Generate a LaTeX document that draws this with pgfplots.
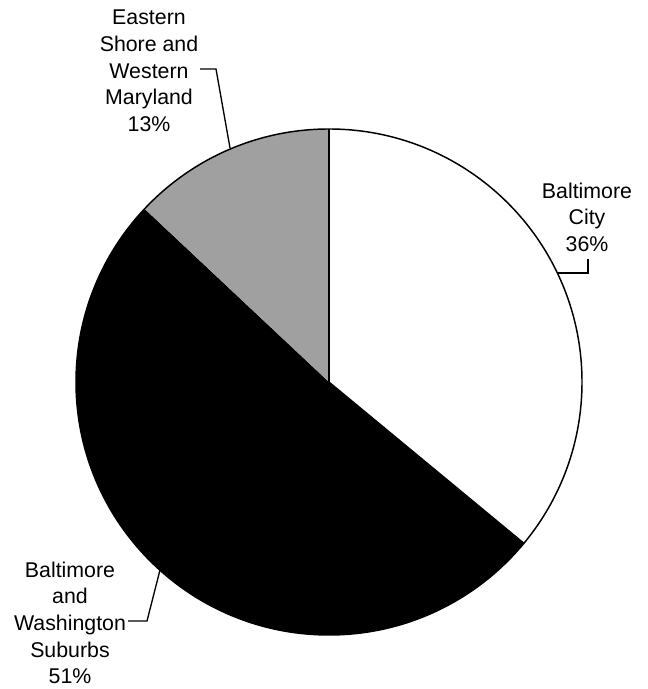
\documentclass[border=0pt]{standalone}
\usepackage{pgfplots}
\pgfplotsset{compat=1.18}
\usepackage{fontspec}
\setmainfont{Liberation Sans}
\definecolor{piegray}{RGB}{160,160,160}
\begin{document}
\begin{tikzpicture}
\begin{axis}[
  width=485.25pt, height=516.75pt, scale only axis,
  xmin=0, xmax=647, ymin=0, ymax=689,
  hide axis, clip=false]
% shares (percent), clockwise from 12 o'clock
\def\vA{36}\def\vB{51}\def\vC{13}
\pgfmathsetmacro{\aA}{90}
\pgfmathsetmacro{\aB}{90-\vA*3.6}
\pgfmathsetmacro{\aC}{\aB-\vB*3.6}
\pgfmathsetmacro{\aD}{\aC-\vC*3.6}
\def\R{189.75pt}
\fill[white] (axis cs:329,307) -- ++(\aA:\R) arc[start angle=\aA, end angle=\aB, radius=\R] -- cycle;
\fill[black] (axis cs:329,307) -- ++(\aB:\R) arc[start angle=\aB, end angle=\aC, radius=\R] -- cycle;
\fill[piegray] (axis cs:329,307) -- ++(\aC:\R) arc[start angle=\aC, end angle=\aD, radius=\R] -- cycle;
\draw[line width=1.1pt] (axis cs:329,307) circle[radius=\R];
\draw[line width=1pt] (axis cs:329,307) -- ++(\aA:\R);
\draw[line width=1pt] (axis cs:329,307) -- ++(\aB:\R);
% leader lines
\draw[line width=1pt] (axis cs:200,620) -- (axis cs:216,620) -- (axis cs:230,541);
\draw[line width=1pt] (axis cs:588,430) -- (axis cs:588,416) -- (axis cs:558,416);
\draw[line width=1pt] (axis cs:128,68) -- (axis cs:147,68) -- (axis cs:160,119);
% labels
\node[align=center, font=\fontsize{16}{20}\selectfont] at (axis cs:149,618) {Eastern\\Shore and\\Western\\Maryland\\13\%};
\node[align=center, font=\fontsize{16}{19.8}\selectfont] at (axis cs:587,472) {Baltimore\\City\\36\%};
\node[align=center, font=\fontsize{16}{20}\selectfont] at (axis cs:70,66) {Baltimore\\and\\Washington\\Suburbs\\51\%};
\end{axis}
\pgfresetboundingbox
\path[use as bounding box] (0,0) rectangle (485.25pt,516.75pt);
\end{tikzpicture}
\end{document}
